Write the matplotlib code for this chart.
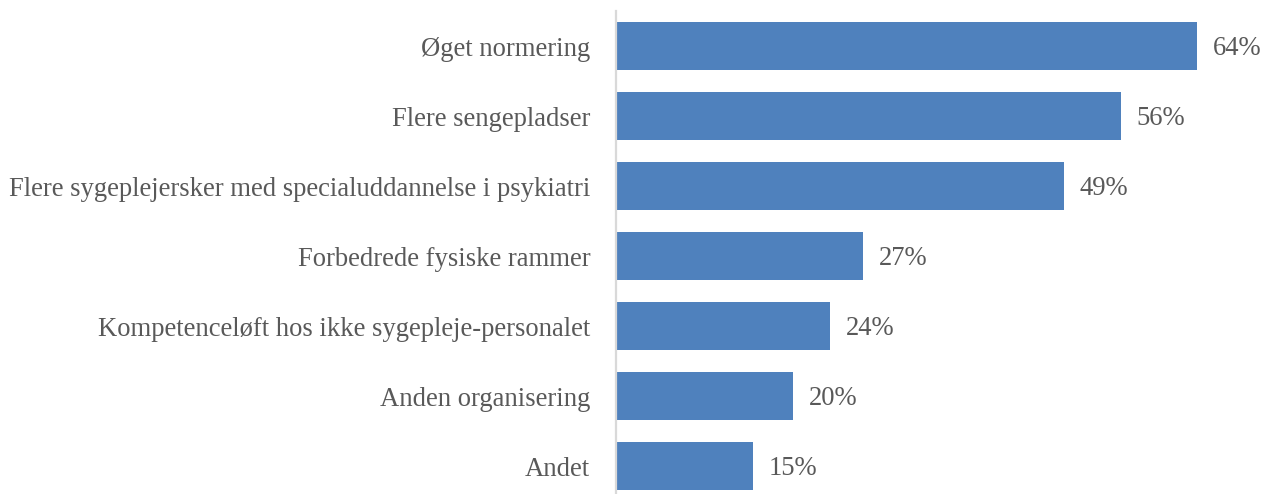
import matplotlib
matplotlib.use("Agg")
import matplotlib.pyplot as plt

categories = [
    "Øget normering",
    "Flere sengepladser",
    "Flere sygeplejersker med specialuddannelse i psykiatri",
    "Forbedrede fysiske rammer",
    "Kompetenceløft hos ikke sygepleje-personalet",
    "Anden organisering",
    "Andet",
]
values = [64.0, 55.6, 49.3, 27.2, 23.6, 19.5, 15.1]
labels = ["64%", "56%", "49%", "27%", "24%", "20%", "15%"]

W, H = 1273, 494
fig = plt.figure(figsize=(W / 100, H / 100), dpi=100)
left = 616 / W
right = 1197 / W
top = 1 - 11 / H
bottom = 1 - 501 / H
ax = fig.add_axes([left, bottom, right - left, top - bottom])

text_color = "#595959"
font = "Liberation Serif"

y = list(range(len(categories)))
ax.barh(y, values, height=0.69, color="#4F81BD", zorder=2)
ax.set_ylim(len(categories) - 0.5, -0.5)
ax.set_xlim(0, 64.0)

for s in ["top", "right", "bottom"]:
    ax.spines[s].set_visible(False)
ax.spines["left"].set_color("#D9D9D9")
ax.spines["left"].set_linewidth(1.6)
ax.set_xticks([])
ax.set_yticks(y)
ax.set_yticklabels(categories, fontfamily=font, color=text_color)
ax.tick_params(axis="y", length=0, pad=18.5)

fs = 16.5
for t in ax.get_yticklabels():
    t.set_fontsize(fs)

# scale font so that the longest label spans ~580 px
fig.canvas.draw()
r = fig.canvas.get_renderer()
longest = ax.get_yticklabels()[2]
w = longest.get_window_extent(r).width
fs = fs * 580 / w
for t in ax.get_yticklabels():
    t.set_fontsize(fs)

for yi, v, lab in zip(y, values, labels):
    ax.annotate(lab, (v, yi), xytext=(11.5, -1.6), textcoords="offset points",
                va="center", ha="left", fontsize=fs, fontfamily=font,
                color=text_color, annotation_clip=False)

fig.savefig("out.png", dpi=100)
